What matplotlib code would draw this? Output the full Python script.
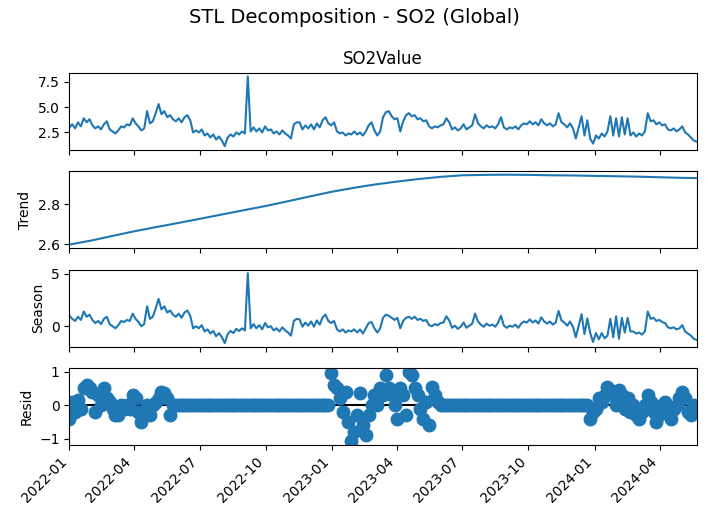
import matplotlib
matplotlib.use("Agg")
import matplotlib.pyplot as plt
import matplotlib.dates as mdates
import pandas as pd

# daily SO2 readings, sampled every 4 days from 2022-01-01
start_date = "2022-01-01"
step = "4D"

observed = [
    3.0, 3.3, 2.9, 3.5, 3.1, 3.9, 3.5, 3.8, 3.2, 2.9,
    3.1, 2.8, 3.3, 3.6, 2.8, 2.6, 2.4, 2.7, 3.1, 3.0,
    3.3, 3.2, 3.9, 3.4, 3.1, 2.7, 2.9, 4.6, 3.4, 3.6,
    4.4, 5.3, 4.3, 4.6, 4.0, 4.2, 3.8, 3.6, 3.9, 3.5,
    4.0, 4.2, 3.7, 2.5, 2.7, 2.5, 2.8, 2.2, 2.4, 2.0,
    2.3, 1.8, 2.1, 1.7, 1.15, 2.0, 2.3, 2.1, 2.5, 2.3,
    2.6, 2.4, 8.04, 2.6, 3.0, 2.6, 2.9, 2.5, 3.1, 2.7,
    2.8, 2.4, 2.6, 2.3, 2.7, 2.4, 2.2, 1.9, 3.3, 3.5,
    3.5, 2.8, 3.2, 2.9, 3.3, 2.8, 3.4, 3.0, 3.7, 4.0,
    3.4, 3.2, 3.5, 2.6, 2.4, 2.5, 2.2, 2.4, 2.3, 2.6,
    2.3, 2.5, 2.2, 2.6, 3.2, 3.5, 2.7, 2.2, 2.6, 4.0,
    4.5, 4.6, 4.1, 3.8, 3.9, 2.6, 3.6, 4.2, 4.4, 4.1,
    4.2, 3.8, 3.9, 3.6, 3.7, 3.1, 2.9, 3.1, 3.0, 3.2,
    3.3, 3.9, 3.5, 2.8, 3.0, 2.7, 2.9, 3.3, 2.8, 3.0,
    3.2, 4.3, 3.4, 3.1, 2.9, 3.2, 3.0, 3.1, 2.9, 3.3,
    4.0, 3.0, 2.8, 3.0, 2.9, 3.1, 2.8, 3.2, 3.4, 3.3,
    3.6, 3.3, 3.5, 3.2, 3.8, 3.4, 3.2, 3.4, 3.1, 3.3,
    4.4, 3.5, 3.3, 3.0, 3.4, 2.9, 1.9, 3.0, 4.1, 2.2,
    3.7, 1.9, 1.4, 2.2, 1.9, 2.4, 2.1, 2.6, 4.1, 2.2,
    3.9, 2.1, 4.0, 2.3, 3.9, 2.2, 2.5, 2.1, 2.4, 2.2,
    2.6, 4.4, 3.6, 3.7, 3.3, 3.5, 3.2, 3.3, 2.8, 2.7,
    2.9, 2.6, 2.8, 3.1, 2.5, 2.3, 2.0, 1.7, 1.6,
]

season = [
    1.0, 0.7, 0.5, 0.9, 0.6, 1.4, 0.9, 1.1, 0.6, 0.3,
    0.5, 0.2, 0.7, 0.9, 0.2, 0.0, -0.2, 0.1, 0.5, 0.4,
    0.6, 0.5, 1.2, 0.7, 0.4, 0.0, 0.2, 1.9, 0.7, 0.9,
    1.7, 2.6, 1.6, 1.9, 1.3, 1.5, 1.1, 0.9, 1.2, 0.8,
    1.3, 1.5, 1.0, -0.2, 0.0, -0.2, 0.1, -0.5, -0.3, -0.7,
    -0.45, -0.95, -0.65, -1.05, -1.6, -0.75, -0.45, -0.65, -0.25, -0.45,
    -0.2, -0.4, 5.05, -0.2, 0.2, -0.2, 0.1, -0.3, 0.3, -0.1,
    0.0, -0.4, -0.2, -0.5, -0.1, -0.4, -0.6, -0.9, 0.5, 0.7,
    0.65, -0.05, 0.35, 0.05, 0.45, -0.05, 0.55, 0.15, 0.85, 1.1,
    0.5, 0.3, 0.5, -0.3, -0.5, -0.3, -0.6, -0.4, -0.5, -0.3,
    -0.6, -0.3, -0.7, -0.2, 0.3, 0.4, -0.2, -0.6, -0.2, 0.8,
    1.1, 1.0, 0.8, 0.6, 0.8, -0.2, 0.5, 0.8, 0.9, 0.7,
    0.9, 0.6, 0.7, 0.5, 0.6, 0.1, 0.0, 0.2, 0.1, 0.3,
    0.35, 0.95, 0.55, -0.15, 0.05, -0.25, -0.05, 0.35, -0.15, 0.05,
    0.25, 1.2, 0.45, 0.15, -0.05, 0.25, 0.05, 0.15, -0.05, 0.35,
    1.0, 0.05, -0.15, 0.05, -0.05, 0.15, -0.15, 0.25, 0.45, 0.35,
    0.65, 0.35, 0.55, 0.25, 0.85, 0.45, 0.25, 0.45, 0.15, 0.35,
    1.45, 0.55, 0.35, 0.05, 0.45, -0.05, -1.05, 0.05, 1.15, -0.75,
    0.75, -0.65, -1.5, -0.65, -1.25, -0.65, -1.15, -0.9, 0.7, -1.05,
    0.95, -1.2, 0.8, -0.6, 0.8, -0.5, -0.5, -0.7, -0.6, -0.8,
    -0.5, 1.4, 0.7, 0.8, 0.5, 0.6, 0.4, 0.3, -0.1, -0.2,
    -0.1, -0.3, -0.2, 0.1, -0.5, -0.7, -0.9, -1.2, -1.3,
]

resid = [
    -0.4, 0.1, -0.2, 0.15, -0.1, 0.5, 0.6, 0.5, 0.4, -0.2,
    0.3, 0.0, 0.5, 0.2, 0.1, -0.1, -0.3, -0.3, 0.0, -0.1,
    0.0, -0.1, 0.3, 0.2, -0.2, -0.5, -0.2, 0.0, -0.3, 0.0,
    0.1, 0.2, 0.4, 0.35, 0.2, -0.3, 0.0, 0.0, 0.0, 0.0,
    0.0, 0.0, 0.0, 0.0, 0.0, 0.0, 0.0, 0.0, 0.0, 0.0,
    0.0, 0.0, 0.0, 0.0, 0.0, 0.0, 0.0, 0.0, 0.0, 0.0,
    0.0, 0.0, 0.0, 0.0, 0.0, 0.0, 0.0, 0.0, 0.0, 0.0,
    0.0, 0.0, 0.0, 0.0, 0.0, 0.0, 0.0, 0.0, 0.0, 0.0,
    0.0, 0.0, 0.0, 0.0, 0.0, 0.0, 0.0, 0.0, 0.0, 0.0,
    0.0, 0.95, 0.6, 0.5, 0.2, -0.2, 0.4, -0.5, -1.08, -0.8,
    -0.3, 0.35, -0.6, -0.9, -0.3, 0.0, 0.3, 0.0, 0.5, 0.3,
    0.9, 0.5, 0.3, 0.0, -0.4, 0.5, 0.3, -0.3, 1.0, 0.9,
    0.5, 0.3, -0.1, -0.4, 0.1, -0.6, 0.55, 0.3, 0.1, 0.0,
    0.0, 0.0, 0.0, 0.0, 0.0, 0.0, 0.0, 0.0, 0.0, 0.0,
    0.0, 0.0, 0.0, 0.0, 0.0, 0.0, 0.0, 0.0, 0.0, 0.0,
    0.0, 0.0, 0.0, 0.0, 0.0, 0.0, 0.0, 0.0, 0.0, 0.0,
    0.0, 0.0, 0.0, 0.0, 0.0, 0.0, 0.0, 0.0, 0.0, 0.0,
    0.0, 0.0, 0.0, 0.0, 0.0, 0.0, 0.0, 0.0, 0.0, 0.0,
    0.0, -0.4, -0.2, -0.1, 0.2, 0.1, 0.3, 0.55, 0.45, 0.3,
    0.0, 0.45, 0.3, -0.1, 0.2, -0.2, 0.0, -0.3, -0.4, -0.2,
    0.0, 0.3, 0.1, -0.2, -0.5, -0.3, 0.0, 0.1, -0.2, -0.4,
    -0.1, 0.0, 0.2, 0.4, 0.2, -0.2, -0.3, 0.0, -0.2,
]

# trend is smooth, read once a month
trend_dates = [
    "2022-01-01", "2022-02-01", "2022-03-01", "2022-04-01", "2022-05-01", "2022-06-01",
    "2022-07-01", "2022-08-01", "2022-09-01", "2022-10-01", "2022-11-01", "2022-12-01",
    "2023-01-01", "2023-02-01", "2023-03-01", "2023-04-01", "2023-05-01", "2023-06-01",
    "2023-07-01", "2023-08-01", "2023-09-01", "2023-10-01", "2023-11-01", "2023-12-01",
    "2024-01-01", "2024-02-01", "2024-03-01", "2024-04-01", "2024-05-01", "2024-05-21",
]
trend = [
    2.597, 2.618, 2.640, 2.664, 2.685, 2.706,
    2.727, 2.749, 2.771, 2.792, 2.816, 2.840,
    2.864, 2.884, 2.900, 2.915, 2.928, 2.939,
    2.947, 2.949, 2.950, 2.949, 2.947, 2.946,
    2.944, 2.942, 2.940, 2.937, 2.934, 2.933,
]

dates = pd.date_range(start_date, periods=len(observed), freq=step)
tdates = pd.to_datetime(trend_dates)

fig, axes = plt.subplots(4, 1, sharex=True, figsize=(7.08, 5.31), dpi=100)
fig.subplots_adjust(left=0.098, right=0.984, top=0.863, bottom=0.162, hspace=0.28)

axes[0].plot(dates, observed)
axes[0].set_title("SO2Value")

axes[1].plot(tdates, trend)
axes[1].set_ylabel("Trend")

axes[2].plot(dates, season)
axes[2].set_ylabel("Season")

axes[3].plot(dates, resid, marker="o", markersize=9, linestyle="none")
axes[3].axhline(0, color="#000000", zorder=-3)
axes[3].set_ylabel("Resid")

axes[3].set_xlim(dates[0], dates[-1])
axes[3].xaxis.set_major_locator(mdates.MonthLocator(bymonth=[1, 4, 7, 10]))
axes[3].xaxis.set_major_formatter(mdates.DateFormatter("%Y-%m"))
plt.setp(axes[3].get_xticklabels(), rotation=45, ha="right")

fig.suptitle("STL Decomposition - SO2 (Global)", fontsize=14, y=0.985)
fig.savefig("out.png", dpi=100)
